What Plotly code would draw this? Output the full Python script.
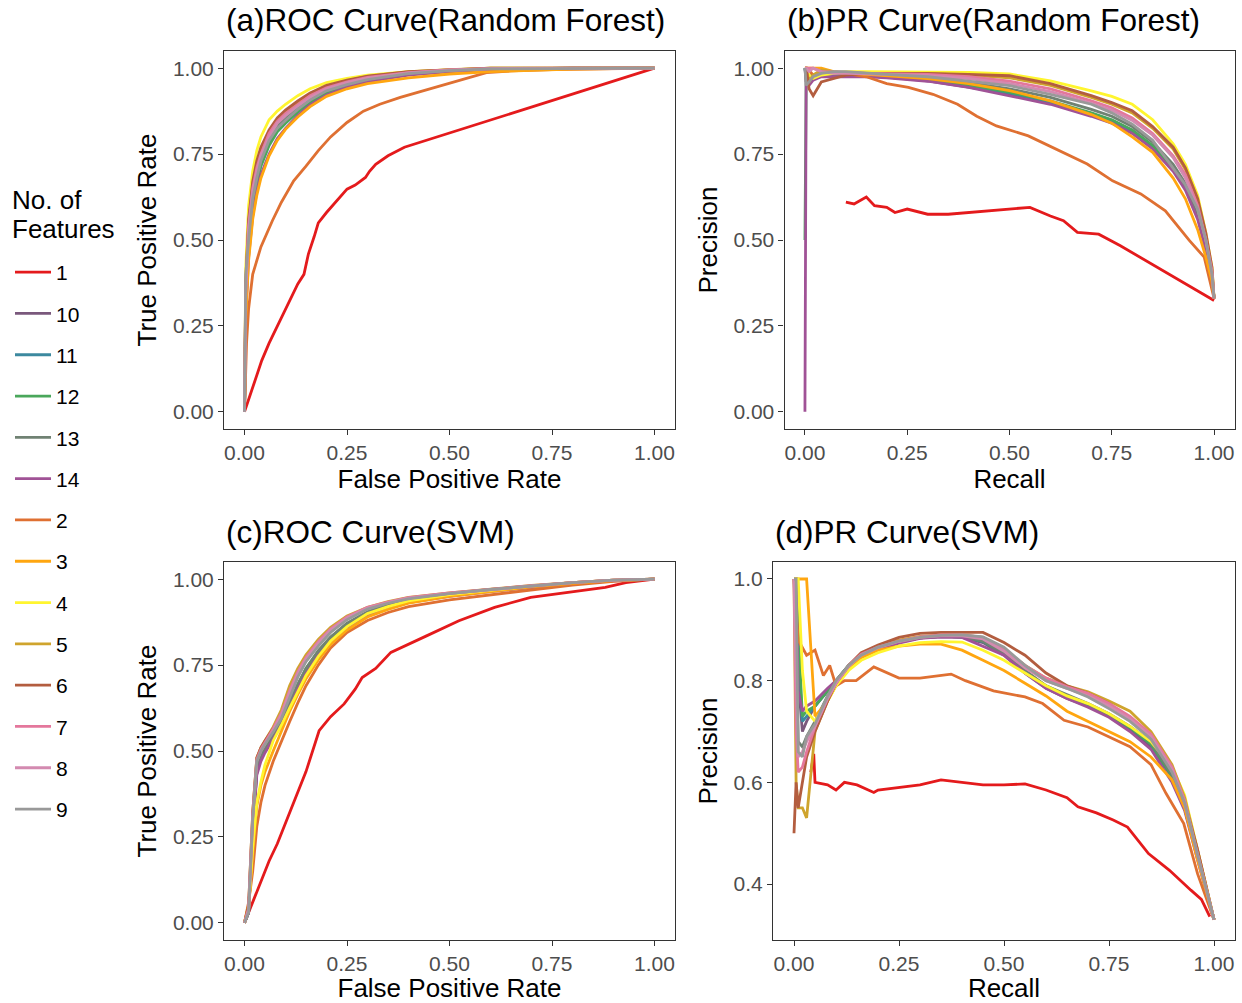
import plotly.graph_objects as go

# number of features (factor order as in the legend)
labels = ["1", "10", "11", "12", "13", "14", "2", "3", "4", "5", "6", "7", "8", "9"]
colors = ["#E41A1C", "#7A587C", "#3C899F", "#4AA75B", "#708273", "#A05296", "#DF7032",
          "#FFA610", "#FFF52F", "#CFA42D", "#B35D3F", "#E4779C", "#D38AB0", "#999999"]

# ---------------- (a) ROC, random forest ----------------
roc_rf_fpr = [0, 0.003, 0.01, 0.02, 0.03, 0.04, 0.06, 0.08, 0.10, 0.13, 0.16, 0.20,
              0.25, 0.30, 0.40, 0.50, 0.60, 0.80, 1.0]
roc_rf_tpr = {
    "10": [0, 0.30, 0.49, 0.60, 0.67, 0.72, 0.78, 0.82, 0.845, 0.877, 0.903, 0.93, 0.95, 0.965, 0.983, 0.992, 0.997, 1.0, 1.0],
    "11": [0, 0.31, 0.50, 0.61, 0.675, 0.725, 0.785, 0.822, 0.847, 0.878, 0.905, 0.932, 0.951, 0.966, 0.983, 0.992, 0.997, 1.0, 1.0],
    "12": [0, 0.30, 0.48, 0.60, 0.665, 0.715, 0.775, 0.815, 0.84, 0.872, 0.90, 0.928, 0.948, 0.964, 0.982, 0.991, 0.997, 1.0, 1.0],
    "13": [0, 0.33, 0.52, 0.63, 0.69, 0.735, 0.795, 0.832, 0.857, 0.886, 0.912, 0.937, 0.955, 0.969, 0.985, 0.993, 0.998, 1.0, 1.0],
    "14": [0, 0.28, 0.45, 0.57, 0.64, 0.69, 0.75, 0.795, 0.825, 0.862, 0.893, 0.922, 0.945, 0.961, 0.98, 0.99, 0.996, 1.0, 1.0],
    "3": [0, 0.27, 0.44, 0.56, 0.63, 0.68, 0.745, 0.79, 0.822, 0.858, 0.888, 0.918, 0.94, 0.955, 0.972, 0.983, 0.99, 0.997, 1.0],
    "4": [0, 0.42, 0.60, 0.70, 0.76, 0.80, 0.85, 0.875, 0.895, 0.92, 0.94, 0.958, 0.97, 0.98, 0.99, 0.995, 1.0, 1.0, 1.0],
    "5": [0, 0.36, 0.55, 0.66, 0.72, 0.76, 0.815, 0.85, 0.872, 0.90, 0.925, 0.947, 0.963, 0.976, 0.989, 0.996, 1.0, 1.0, 1.0],
    "6": [0, 0.38, 0.56, 0.67, 0.73, 0.77, 0.82, 0.855, 0.878, 0.905, 0.928, 0.95, 0.965, 0.977, 0.99, 0.996, 1.0, 1.0, 1.0],
    "7": [0, 0.35, 0.54, 0.65, 0.71, 0.75, 0.81, 0.845, 0.868, 0.895, 0.92, 0.943, 0.96, 0.973, 0.987, 0.995, 0.999, 1.0, 1.0],
    "8": [0, 0.34, 0.53, 0.64, 0.70, 0.745, 0.80, 0.84, 0.862, 0.89, 0.915, 0.94, 0.958, 0.971, 0.986, 0.994, 0.999, 1.0, 1.0],
    "9": [0, 0.40, 0.50, 0.62, 0.68, 0.73, 0.79, 0.825, 0.848, 0.88, 0.907, 0.934, 0.952, 0.967, 0.984, 0.993, 0.998, 1.0, 1.0],
}
roc_rf_fpr_1 = [0, 0.02, 0.042, 0.06, 0.08, 0.094, 0.11, 0.13, 0.145, 0.156, 0.17, 0.18, 0.20,
                0.225, 0.25, 0.27, 0.295, 0.305, 0.32, 0.35, 0.39, 1.0]
roc_rf_tpr_1 = [0, 0.07, 0.149, 0.20, 0.25, 0.285, 0.32, 0.372, 0.40, 0.46, 0.51, 0.55, 0.58,
                0.614, 0.648, 0.66, 0.682, 0.70, 0.72, 0.745, 0.77, 1.0]
roc_rf_fpr_2 = [0, 0.005, 0.01, 0.02, 0.04, 0.068, 0.09, 0.12, 0.15, 0.18, 0.21, 0.25, 0.29,
                0.33, 0.38, 0.435, 0.48, 0.53, 0.59, 0.65, 0.75, 1.0]
roc_rf_tpr_2 = [0, 0.20, 0.30, 0.40, 0.48, 0.556, 0.61, 0.672, 0.715, 0.76, 0.80, 0.842, 0.875,
                0.895, 0.915, 0.934, 0.95, 0.968, 0.987, 0.992, 0.996, 1.0]

# ---------------- (b) PR, random forest ----------------
pr_rf_recall = [0, 0.003, 0.01, 0.02, 0.04, 0.07, 0.10, 0.15, 0.20, 0.30, 0.40, 0.50, 0.60,
                0.70, 0.75, 0.80, 0.85, 0.90, 0.93, 0.96, 0.98, 0.995, 1.0]
pr_rf_precision = {
    "10": [1.0, 0.96, 0.97, 0.975, 0.98, 0.98, 0.98, 0.978, 0.974, 0.963, 0.945, 0.925, 0.90, 0.865, 0.845, 0.815, 0.77, 0.705, 0.65, 0.57, 0.48, 0.39, 0.33],
    "11": [1.0, 0.97, 0.975, 0.98, 0.985, 0.985, 0.982, 0.978, 0.975, 0.965, 0.948, 0.928, 0.902, 0.868, 0.848, 0.818, 0.772, 0.705, 0.65, 0.57, 0.48, 0.39, 0.33],
    "12": [0.5, 0.97, 0.975, 0.98, 0.98, 0.98, 0.98, 0.977, 0.975, 0.966, 0.95, 0.93, 0.905, 0.87, 0.85, 0.82, 0.775, 0.708, 0.652, 0.57, 0.48, 0.39, 0.33],
    "13": [1.0, 0.98, 0.97, 0.975, 0.98, 0.982, 0.983, 0.982, 0.978, 0.97, 0.958, 0.94, 0.915, 0.88, 0.86, 0.83, 0.785, 0.72, 0.665, 0.58, 0.49, 0.40, 0.33],
    "14": [0.0, 1.0, 0.95, 0.965, 0.975, 0.975, 0.975, 0.975, 0.972, 0.962, 0.944, 0.92, 0.895, 0.86, 0.84, 0.81, 0.765, 0.70, 0.645, 0.56, 0.47, 0.38, 0.33],
    "3": [1.0, 1.0, 1.0, 1.0, 1.0, 0.99, 0.985, 0.982, 0.978, 0.97, 0.955, 0.935, 0.905, 0.865, 0.84, 0.80, 0.755, 0.68, 0.62, 0.53, 0.45, 0.38, 0.33],
    "4": [1.0, 1.0, 0.98, 0.97, 0.98, 0.985, 0.99, 0.99, 0.99, 0.99, 0.988, 0.983, 0.963, 0.934, 0.918, 0.895, 0.85, 0.78, 0.72, 0.63, 0.52, 0.42, 0.33],
    "5": [1.0, 1.0, 0.96, 0.98, 0.995, 0.99, 0.988, 0.985, 0.985, 0.984, 0.98, 0.972, 0.95, 0.915, 0.895, 0.87, 0.825, 0.765, 0.705, 0.61, 0.51, 0.41, 0.33],
    "6": [1.0, 1.0, 0.94, 0.92, 0.96, 0.97, 0.98, 0.985, 0.985, 0.985, 0.982, 0.978, 0.955, 0.92, 0.90, 0.876, 0.83, 0.77, 0.71, 0.62, 0.52, 0.42, 0.33],
    "7": [1.0, 1.0, 1.0, 1.0, 0.99, 0.99, 0.988, 0.985, 0.984, 0.982, 0.975, 0.962, 0.94, 0.905, 0.885, 0.855, 0.81, 0.745, 0.69, 0.60, 0.50, 0.41, 0.33],
    "8": [1.0, 1.0, 0.99, 1.0, 0.99, 0.985, 0.985, 0.984, 0.982, 0.978, 0.97, 0.955, 0.932, 0.898, 0.878, 0.848, 0.805, 0.74, 0.68, 0.59, 0.50, 0.40, 0.33],
    "9": [1.0, 0.95, 0.96, 0.975, 0.985, 0.99, 0.99, 0.985, 0.982, 0.975, 0.963, 0.949, 0.924, 0.895, 0.87, 0.837, 0.79, 0.71, 0.66, 0.59, 0.50, 0.40, 0.33],
}
pr_rf_recall_1 = [0.10, 0.12, 0.15, 0.17, 0.20, 0.22, 0.25, 0.30, 0.35, 0.40, 0.45, 0.50, 0.55,
                  0.60, 0.632, 0.666, 0.718, 0.77, 1.0]
pr_rf_precision_1 = [0.61, 0.605, 0.625, 0.60, 0.595, 0.58, 0.59, 0.575, 0.575, 0.58, 0.585, 0.59,
                     0.595, 0.57, 0.556, 0.522, 0.517, 0.484, 0.324]
pr_rf_recall_2 = [0.0, 0.005, 0.02, 0.05, 0.10, 0.15, 0.20, 0.253, 0.313, 0.373, 0.42, 0.468,
                  0.546, 0.623, 0.69, 0.752, 0.821, 0.881, 0.94, 0.976, 1.0]
pr_rf_precision_2 = [1.0, 1.0, 0.98, 0.99, 0.985, 0.975, 0.955, 0.944, 0.924, 0.895, 0.86, 0.832,
                     0.803, 0.76, 0.721, 0.672, 0.634, 0.585, 0.498, 0.45, 0.33]

# ---------------- (c) ROC, SVM ----------------
roc_svm_fpr = [0, 0.01, 0.02, 0.03, 0.04, 0.05, 0.07, 0.09, 0.11, 0.13, 0.15, 0.18, 0.21,
               0.25, 0.30, 0.35, 0.40, 0.50, 0.60, 0.70, 0.80, 0.90, 1.0]
roc_svm_tpr = {
    "10": [0, 0.03, 0.27, 0.44, 0.48, 0.50, 0.54, 0.58, 0.63, 0.685, 0.73, 0.782, 0.825, 0.865, 0.90, 0.92, 0.936, 0.953, 0.966, 0.978, 0.988, 0.996, 1.0],
    "11": [0, 0.03, 0.27, 0.44, 0.48, 0.50, 0.54, 0.582, 0.635, 0.69, 0.735, 0.786, 0.828, 0.868, 0.902, 0.922, 0.938, 0.954, 0.967, 0.978, 0.988, 0.996, 1.0],
    "12": [0, 0.03, 0.28, 0.45, 0.485, 0.505, 0.545, 0.59, 0.64, 0.695, 0.74, 0.79, 0.83, 0.87, 0.903, 0.923, 0.938, 0.954, 0.967, 0.978, 0.988, 0.996, 1.0],
    "13": [0, 0.03, 0.28, 0.45, 0.49, 0.51, 0.545, 0.585, 0.64, 0.695, 0.74, 0.792, 0.832, 0.872, 0.905, 0.925, 0.94, 0.955, 0.968, 0.979, 0.989, 0.996, 1.0],
    "14": [0, 0.03, 0.26, 0.43, 0.47, 0.495, 0.535, 0.575, 0.625, 0.68, 0.725, 0.778, 0.82, 0.86, 0.895, 0.915, 0.932, 0.95, 0.964, 0.976, 0.987, 0.995, 1.0],
    "2": [0, 0.06, 0.15, 0.28, 0.35, 0.40, 0.47, 0.53, 0.585, 0.64, 0.69, 0.75, 0.80, 0.845, 0.88, 0.903, 0.92, 0.94, 0.955, 0.97, 0.983, 0.994, 1.0],
    "3": [0, 0.05, 0.20, 0.34, 0.40, 0.44, 0.50, 0.56, 0.615, 0.665, 0.71, 0.765, 0.81, 0.852, 0.89, 0.912, 0.93, 0.95, 0.965, 0.978, 0.988, 0.996, 1.0],
    "4": [0, 0.04, 0.22, 0.35, 0.41, 0.46, 0.53, 0.575, 0.625, 0.675, 0.72, 0.775, 0.82, 0.862, 0.90, 0.92, 0.937, 0.955, 0.968, 0.98, 0.99, 0.997, 1.0],
    "5": [0, 0.05, 0.32, 0.48, 0.51, 0.53, 0.57, 0.62, 0.69, 0.74, 0.78, 0.825, 0.86, 0.893, 0.918, 0.935, 0.947, 0.96, 0.972, 0.982, 0.99, 0.997, 1.0],
    "6": [0, 0.05, 0.32, 0.48, 0.51, 0.53, 0.565, 0.605, 0.665, 0.72, 0.765, 0.812, 0.85, 0.886, 0.915, 0.932, 0.945, 0.959, 0.97, 0.98, 0.99, 0.997, 1.0],
    "7": [0, 0.04, 0.31, 0.475, 0.505, 0.525, 0.565, 0.61, 0.675, 0.73, 0.772, 0.818, 0.855, 0.89, 0.918, 0.933, 0.946, 0.96, 0.971, 0.981, 0.99, 0.997, 1.0],
    "8": [0, 0.04, 0.30, 0.47, 0.50, 0.52, 0.56, 0.605, 0.67, 0.725, 0.768, 0.814, 0.852, 0.887, 0.916, 0.932, 0.945, 0.959, 0.97, 0.981, 0.99, 0.997, 1.0],
    "9": [0, 0.03, 0.30, 0.47, 0.50, 0.52, 0.555, 0.595, 0.655, 0.715, 0.76, 0.805, 0.845, 0.882, 0.913, 0.93, 0.943, 0.958, 0.97, 0.98, 0.99, 0.997, 1.0],
}
roc_svm_fpr_1 = [0, 0.02, 0.04, 0.06, 0.08, 0.10, 0.13, 0.15, 0.182, 0.21, 0.243, 0.27, 0.287,
                 0.32, 0.357, 0.40, 0.444, 0.523, 0.61, 0.698, 0.81, 0.88, 0.93, 1.0]
roc_svm_tpr_1 = [0, 0.06, 0.12, 0.18, 0.23, 0.29, 0.375, 0.44, 0.559, 0.60, 0.637, 0.68, 0.714,
                 0.74, 0.787, 0.81, 0.835, 0.879, 0.918, 0.947, 0.966, 0.976, 0.99, 1.0]

# ---------------- (d) PR, SVM ----------------
pr_svm_recall = [0, 0.005, 0.01, 0.02, 0.03, 0.05, 0.08, 0.10, 0.13, 0.16, 0.20, 0.25, 0.30,
                 0.35, 0.40, 0.45, 0.50, 0.55, 0.60, 0.65, 0.70, 0.75, 0.80, 0.85, 0.90, 0.93,
                 0.96, 1.0]
pr_svm_precision = {
    "10": [1.0, 1.0, 0.80, 0.70, 0.72, 0.75, 0.78, 0.80, 0.83, 0.85, 0.864, 0.876, 0.884, 0.886, 0.885, 0.875, 0.85, 0.815, 0.785, 0.765, 0.75, 0.73, 0.705, 0.67, 0.61, 0.55, 0.455, 0.33],
    "11": [1.0, 1.0, 0.85, 0.72, 0.73, 0.75, 0.78, 0.80, 0.83, 0.85, 0.864, 0.876, 0.884, 0.887, 0.886, 0.877, 0.852, 0.818, 0.788, 0.768, 0.752, 0.733, 0.708, 0.675, 0.612, 0.55, 0.455, 0.33],
    "12": [1.0, 1.0, 0.90, 0.73, 0.74, 0.75, 0.78, 0.80, 0.83, 0.85, 0.864, 0.876, 0.884, 0.887, 0.886, 0.878, 0.853, 0.82, 0.79, 0.77, 0.753, 0.733, 0.708, 0.675, 0.612, 0.55, 0.455, 0.33],
    "13": [1.0, 0.90, 0.68, 0.67, 0.69, 0.72, 0.77, 0.797, 0.828, 0.85, 0.864, 0.876, 0.884, 0.887, 0.886, 0.878, 0.852, 0.82, 0.79, 0.772, 0.755, 0.735, 0.71, 0.68, 0.615, 0.55, 0.455, 0.33],
    "14": [1.0, 1.0, 0.78, 0.74, 0.75, 0.76, 0.785, 0.80, 0.828, 0.848, 0.862, 0.874, 0.883, 0.886, 0.885, 0.868, 0.85, 0.815, 0.785, 0.765, 0.748, 0.728, 0.70, 0.665, 0.60, 0.545, 0.45, 0.33],
    "3": [1.0, 1.0, 1.0, 1.0, 1.0, 0.73, 0.76, 0.79, 0.825, 0.845, 0.86, 0.868, 0.872, 0.872, 0.86, 0.84, 0.82, 0.795, 0.77, 0.74, 0.72, 0.70, 0.68, 0.65, 0.605, 0.55, 0.45, 0.33],
    "4": [1.0, 1.0, 1.0, 0.82, 0.74, 0.72, 0.76, 0.79, 0.82, 0.84, 0.855, 0.868, 0.875, 0.877, 0.876, 0.86, 0.84, 0.815, 0.79, 0.77, 0.755, 0.735, 0.71, 0.68, 0.63, 0.575, 0.47, 0.33],
    "5": [1.0, 0.60, 0.55, 0.55, 0.53, 0.70, 0.76, 0.795, 0.828, 0.852, 0.868, 0.88, 0.887, 0.89, 0.89, 0.885, 0.862, 0.83, 0.805, 0.79, 0.778, 0.76, 0.74, 0.70, 0.635, 0.57, 0.47, 0.33],
    "6": [0.50, 0.60, 0.55, 0.60, 0.65, 0.70, 0.76, 0.795, 0.83, 0.855, 0.87, 0.885, 0.893, 0.895, 0.895, 0.895, 0.875, 0.85, 0.815, 0.79, 0.775, 0.755, 0.725, 0.69, 0.625, 0.56, 0.47, 0.33],
    "7": [1.0, 0.70, 0.62, 0.63, 0.66, 0.71, 0.765, 0.795, 0.83, 0.852, 0.866, 0.878, 0.886, 0.89, 0.89, 0.885, 0.862, 0.83, 0.805, 0.788, 0.775, 0.755, 0.73, 0.695, 0.63, 0.565, 0.46, 0.33],
    "8": [1.0, 0.80, 0.65, 0.66, 0.68, 0.71, 0.765, 0.795, 0.828, 0.85, 0.865, 0.877, 0.885, 0.888, 0.888, 0.882, 0.858, 0.825, 0.80, 0.785, 0.77, 0.75, 0.725, 0.69, 0.625, 0.56, 0.46, 0.33],
    "9": [1.0, 1.0, 0.66, 0.65, 0.69, 0.715, 0.77, 0.80, 0.83, 0.85, 0.866, 0.878, 0.885, 0.889, 0.89, 0.886, 0.866, 0.83, 0.80, 0.785, 0.768, 0.745, 0.72, 0.685, 0.62, 0.56, 0.46, 0.33],
}
pr_svm_recall_1 = [0.04, 0.047, 0.05, 0.08, 0.10, 0.12, 0.15, 0.19, 0.20, 0.25, 0.30, 0.35, 0.40,
                   0.45, 0.50, 0.55, 0.60, 0.65, 0.676, 0.72, 0.76, 0.794, 0.844, 0.894, 0.945,
                   0.97, 0.99]
pr_svm_precision_1 = [0.62, 0.656, 0.60, 0.595, 0.585, 0.60, 0.595, 0.58, 0.585, 0.59, 0.595,
                      0.605, 0.60, 0.595, 0.595, 0.597, 0.585, 0.57, 0.552, 0.54, 0.526, 0.512,
                      0.46, 0.427, 0.388, 0.37, 0.336]
pr_svm_recall_2 = [0.0, 0.01, 0.03, 0.05, 0.07, 0.085, 0.10, 0.12, 0.148, 0.19, 0.25, 0.30, 0.374,
                   0.408, 0.475, 0.55, 0.592, 0.643, 0.70, 0.75, 0.80, 0.85, 0.886, 0.928, 0.961, 1.0]
pr_svm_precision_2 = [1.0, 0.88, 0.85, 0.86, 0.81, 0.83, 0.79, 0.80, 0.80, 0.827, 0.805, 0.805,
                      0.813, 0.80, 0.78, 0.768, 0.755, 0.722, 0.709, 0.69, 0.67, 0.635, 0.578,
                      0.519, 0.42, 0.33]

panel_titles = ["(a)ROC Curve(Random Forest)", "(b)PR Curve(Random Forest)",
                "(c)ROC Curve(SVM)", "(d)PR Curve(SVM)"]
legend_title = ["No. of", "Features"]

FONT = "Arial, Liberation Sans, sans-serif"
W, H = 1242, 1003


def series_xy(grid, values, label, own):
    """own: dict label -> (x, y) for curves read on their own grid"""
    if label in own:
        return own[label]
    return grid, values[label]


panels = [
    ("x", "y", roc_rf_fpr, roc_rf_tpr,
     {"1": (roc_rf_fpr_1, roc_rf_tpr_1), "2": (roc_rf_fpr_2, roc_rf_tpr_2)}),
    ("x2", "y2", pr_rf_recall, pr_rf_precision,
     {"1": (pr_rf_recall_1, pr_rf_precision_1), "2": (pr_rf_recall_2, pr_rf_precision_2)}),
    ("x3", "y3", roc_svm_fpr, roc_svm_tpr,
     {"1": (roc_svm_fpr_1, roc_svm_tpr_1)}),
    ("x4", "y4", pr_svm_recall, pr_svm_precision,
     {"1": (pr_svm_recall_1, pr_svm_precision_1), "2": (pr_svm_recall_2, pr_svm_precision_2)}),
]

fig = go.Figure()
for p, (xa, ya, grid, values, own) in enumerate(panels):
    for label, color in zip(labels, colors):
        x, y = series_xy(grid, values, label, own)
        fig.add_trace(go.Scatter(
            x=x, y=y, mode="lines", name=label, legendgroup=label,
            showlegend=(p == 0), xaxis=xa, yaxis=ya,
            line=dict(color=color, width=2.8),
        ))

axis_style = dict(
    showline=True, mirror=True, linecolor="#333333", linewidth=1.1,
    ticks="outside", ticklen=5, tickwidth=1.1, tickcolor="#333333",
    showgrid=False, zeroline=False, automargin=False,
    tickfont=dict(family=FONT, size=21, color="#4D4D4D"),
    title_font=dict(family=FONT, size=26, color="black"),
)
unit_ticks = dict(tickvals=[0, 0.25, 0.5, 0.75, 1.0], tickformat=".2f", range=[-0.05, 1.05])

top_y = [1 - 429 / H, 1 - 51 / H]
bot_y = [1 - 940 / H, 1 - 562 / H]
left_x = [224 / W, 675 / W]

fig.update_layout(
    width=W, height=H,
    margin=dict(l=0, r=0, t=0, b=0, autoexpand=False),
    plot_bgcolor="white", paper_bgcolor="white",
    font=dict(family=FONT, color="black"),
    hovermode=False,
    xaxis=dict(domain=left_x, anchor="y", title=dict(text="False Positive Rate", standoff=6), **unit_ticks, **axis_style),
    yaxis=dict(domain=top_y, anchor="x", title=dict(text="True Positive Rate", standoff=8), **unit_ticks, **axis_style),
    xaxis2=dict(domain=[784.5 / W, 1234.5 / W], anchor="y2", title=dict(text="Recall", standoff=6), **unit_ticks, **axis_style),
    yaxis2=dict(domain=top_y, anchor="x2", title=dict(text="Precision", standoff=8), **unit_ticks, **axis_style),
    xaxis3=dict(domain=left_x, anchor="y3", title=dict(text="False Positive Rate", standoff=6), **unit_ticks, **axis_style),
    yaxis3=dict(domain=bot_y, anchor="x3", title=dict(text="True Positive Rate", standoff=8), **unit_ticks, **axis_style),
    xaxis4=dict(domain=[773 / W, 1235 / W], anchor="y4", title=dict(text="Recall", standoff=6), **unit_ticks, **axis_style),
    yaxis4=dict(domain=bot_y, anchor="x4", title=dict(text="Precision", standoff=8),
                tickvals=[0.4, 0.6, 0.8, 1.0], tickformat=".1f", range=[0.29, 1.0334], **axis_style),
    legend=dict(
        x=10 / W, xanchor="left", y=1 - 252 / H, yanchor="top",
        font=dict(family=FONT, size=21, color="black"),
        itemwidth=36, tracegroupgap=11, bgcolor="rgba(0,0,0,0)",
    ),
    showlegend=True,
)

# legend title, two lines as in the reference
for i, line in enumerate(legend_title):
    fig.add_annotation(
        text=line, x=10 / W, y=1 - (200 + 29 * i) / H, xref="paper", yref="paper",
        xanchor="left", yanchor="middle", showarrow=False,
        font=dict(family=FONT, size=26, color="black"),
    )

title_pos = [(224 / W, 1 - 20 / H), (784.5 / W, 1 - 20 / H),
             (224 / W, 1 - 532 / H), (773 / W, 1 - 532 / H)]
for text, (tx, ty) in zip(panel_titles, title_pos):
    fig.add_annotation(
        text=text, x=tx, y=ty, xref="paper", yref="paper",
        xanchor="left", yanchor="middle", showarrow=False,
        font=dict(family=FONT, size=31.5, color="black"),
    )

# drop the default page margin so the figure starts at the window corner
fig.write_html("out.html", config={"displayModeBar": False},
               post_script="document.body.style.margin = '0px';")
